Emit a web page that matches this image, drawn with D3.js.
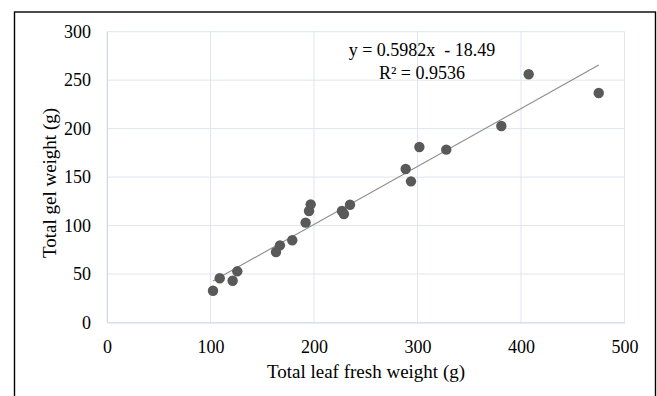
<!DOCTYPE html>
<html>
<head>
<meta charset="utf-8">
<script src="https://cdn.jsdelivr.net/npm/d3@7"></script>
<style>
  body { margin: 0; background: #fff; }
  svg text { font-family: "Liberation Serif", "Times New Roman", serif; }
</style>
</head>
<body>
<div id="chart"></div>
<script>
// data
var leafWeight = [102.4, 108.9, 121.4, 125.9, 163.3, 167.1, 179.0, 191.9, 195.2, 196.8,
                  227.0, 228.9, 234.8, 288.6, 293.7, 301.8, 327.8, 381.0, 407.4, 475.1];
var gelWeight  = [32.8, 45.6, 43.1, 52.8, 72.7, 79.6, 84.8, 103.0, 115.0, 121.9,
                  115.0, 111.9, 121.5, 158.4, 145.6, 181.1, 178.3, 202.7, 256.1, 236.8];
var xTicks = [0, 100, 200, 300, 400, 500];
var yTicks = [0, 50, 100, 150, 200, 250, 300];
var slope = 0.5982, intercept = -18.49;
var eqLabel = "y = 0.5982x  - 18.49";
var r2Label = "R\u00b2 = 0.9536";

var serif = '"Liberation Serif", "Times New Roman", serif';

var W = 657, H = 396;
var margin = {top: 31.7, right: 32.5, bottom: 73.5, left: 107},
width = W - margin.left - margin.right,
height = H - margin.top - margin.bottom;

var root = d3.select("#chart")
.append("svg")
.attr("width", W)
.attr("height", H);

// outer frame
root.append("rect")
.attr("x", 14.5).attr("y", 12)
.attr("width", 641).attr("height", 400)
.attr("fill", "none")
.attr("stroke", "#000")
.attr("stroke-width", 1.4);

var svg = root.append("g")
.attr("transform", "translate(" + margin.left + "," + margin.top + ")");

var x = d3.scaleLinear().domain([0, 500]).range([0, width]);
var y = d3.scaleLinear().domain([0, 300]).range([height, 0]);

// gridlines
svg.append("g")
.selectAll("line.h")
.data(yTicks)
.enter()
.append("line")
.attr("x1", 0).attr("x2", width)
.attr("y1", function(d) { return y(d); })
.attr("y2", function(d) { return y(d); })
.attr("stroke", "#dfe5ee")
.attr("stroke-width", 1);

svg.append("g")
.selectAll("line.v")
.data(xTicks)
.enter()
.append("line")
.attr("y1", 0).attr("y2", height)
.attr("x1", function(d) { return x(d); })
.attr("x2", function(d) { return x(d); })
.attr("stroke", "#dfe5ee")
.attr("stroke-width", 1);

// axes
var xAxis = svg.append("g")
.attr("transform", "translate(0," + height + ")")
.call(d3.axisBottom(x).tickValues(xTicks).tickSize(0).tickPadding(18));
xAxis.select(".domain").attr("stroke", "#d3dae5");
xAxis.selectAll("text")
.style("font-family", serif)
.style("font-size", "18px")
.attr("fill", "#000");

var yAxis = svg.append("g")
.call(d3.axisLeft(y).tickValues(yTicks).tickSize(0).tickPadding(16));
yAxis.select(".domain").attr("stroke", "#d3dae5");
yAxis.selectAll("text")
.style("font-family", serif)
.style("font-size", "18px")
.attr("fill", "#000");

// trendline
var xMin = d3.min(leafWeight), xMax = d3.max(leafWeight);
svg.append("line")
.attr("x1", x(xMin)).attr("y1", y(slope * xMin + intercept))
.attr("x2", x(xMax)).attr("y2", y(slope * xMax + intercept))
.attr("stroke", "#8c8c8c")
.attr("stroke-width", 1.1);

// points
svg.selectAll("circle")
.data(leafWeight)
.enter()
.append("circle")
.attr("cx", function(d) { return x(d); })
.attr("cy", function(d, i) { return y(gelWeight[i]); })
.attr("r", 5.2)
.attr("fill", "#595959");

// equation
root.append("text")
.attr("x", 422).attr("y", 56)
.attr("text-anchor", "middle")
.style("font-size", "18px")
.style("white-space", "pre")
.text(eqLabel);
root.append("text")
.attr("x", 422).attr("y", 79)
.attr("text-anchor", "middle")
.style("font-size", "18px")
.text(r2Label);

// axis titles
root.append("text")
.attr("x", 366).attr("y", 378)
.attr("text-anchor", "middle")
.style("font-size", "19px")
.text("Total leaf fresh weight (g)");

root.append("g")
.attr("transform", "translate(56,183)")
.append("text")
.attr("text-anchor", "middle")
.attr("transform", "rotate(-90)")
.style("font-size", "19px")
.text("Total gel weight (g)");
</script>
</body>
</html>
